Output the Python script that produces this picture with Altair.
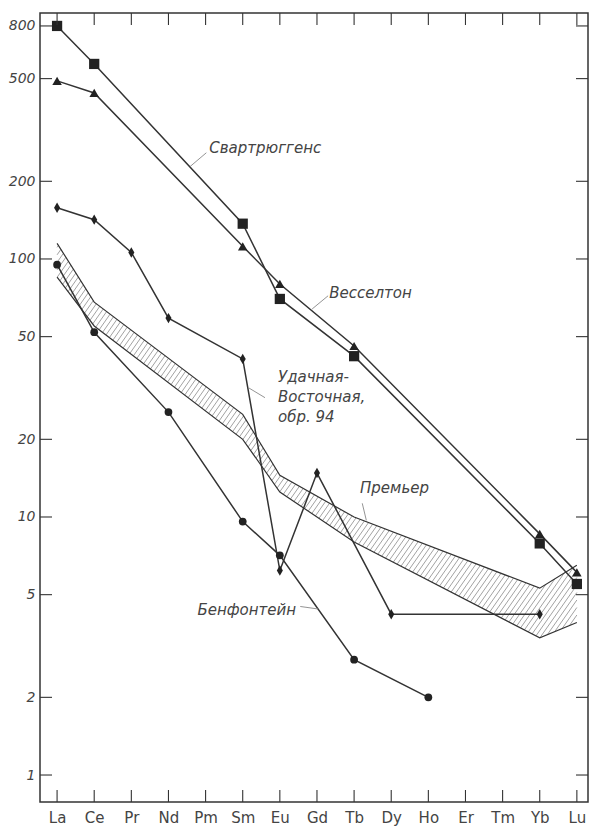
import json
import numpy as np
import pandas as pd
import altair as alt

# ---------------- data ----------------
elements = ["La", "Ce", "Pr", "Nd", "Pm", "Sm", "Eu", "Gd", "Tb", "Dy", "Ho", "Er", "Tm", "Yb", "Lu"]

svart_el = ["La", "Ce", "Sm", "Eu", "Tb", "Yb", "Lu"]
svart_val = [800, 570, 137, 70, 42, 7.9, 5.5]

vessel_el = ["La", "Ce", "Sm", "Eu", "Tb", "Yb", "Lu"]
vessel_val = [490, 440, 112, 80, 46, 8.6, 6.1]

udach_el = ["La", "Ce", "Pr", "Nd", "Sm", "Eu", "Gd", "Dy", "Yb"]
udach_val = [158, 142, 106, 59, 41, 6.2, 14.8, 4.2, 4.2]

benf_el = ["La", "Ce", "Nd", "Sm", "Eu", "Tb", "Ho"]
benf_val = [95, 52, 25.5, 9.6, 7.1, 2.8, 2.0]

prem_el = ["La", "Ce", "Sm", "Eu", "Tb", "Yb", "Lu"]
prem_upper = [115, 68, 25, 14.5, 10, 5.3, 6.5]
prem_lower = [85, 55, 20, 12.5, 8, 3.4, 3.9]

y_ticks = [1, 2, 5, 10, 20, 50, 100, 200, 500, 800]

# ---------------- layout ----------------
W, H = 548, 789
XDOM = [-0.46, 14.3]
YDOM = [0.786, 898]
LINE = "#333333"
TXT = "#444444"
FONT = "DejaVu Sans"

xs_scale = alt.Scale(domain=XDOM, nice=False, zero=False)
ys_scale = alt.Scale(type="log", domain=YDOM, nice=False)

label_expr = json.dumps(elements) + "[datum.value]"
X_AX = alt.Axis(values=list(range(len(elements))), labelExpr=label_expr, title=None,
                ticks=False, domain=False, grid=False, labelFontSize=15,
                labelColor=TXT, labelPadding=8, labelFont=FONT)
Y_AX = alt.Axis(values=y_ticks, format="d", title=None, ticks=False, domain=False, grid=False,
                labelFontSize=14, labelFontStyle="italic", labelColor=TXT,
                labelPadding=5, labelFont=FONT)


def xenc(f):
    return alt.X(f, type="quantitative", scale=xs_scale, axis=X_AX)


def yenc(f):
    return alt.Y(f, type="quantitative", scale=ys_scale, axis=Y_AX)


def idx(el):
    return [elements.index(e) for e in el]


series = []
for name, el, val in [("Свартрюггенс", svart_el, svart_val),
                      ("Весселтон", vessel_el, vessel_val),
                      ("Удачная", udach_el, udach_val),
                      ("Бенфонтейн", benf_el, benf_val)]:
    for i, v in zip(idx(el), val):
        series.append({"series": name, "i": i, "v": v})
df = pd.DataFrame(series)

band = pd.DataFrame({"i": idx(prem_el), "up": prem_upper, "lo": prem_lower})

# hatch segments derived from band boundaries
px_x = W / (XDOM[1] - XDOM[0])
px_y = H / (np.log10(YDOM[1]) - np.log10(YDOM[0]))
bx = np.array(idx(prem_el), float)
xs = np.linspace(bx[0], bx[-1], 4001)
lu = np.interp(xs, bx, np.log10(prem_upper))
ll = np.interp(xs, bx, np.log10(prem_lower))
X = xs * px_x
YU = lu * px_y
YL = ll * px_y
t = np.tan(np.radians(55))
cmin = (YL - X * t).min()
cmax = (YU - X * t).max()
segs = []
for c in np.arange(cmin, cmax, 7.5):
    ly = X * t + c
    m = (ly >= YL) & (ly <= YU)
    w = np.where(m)[0]
    if len(w) < 2:
        continue
    i0, i1 = w[0], w[-1]
    segs.append({"x": xs[i0], "y": 10 ** (ly[i0] / px_y),
                 "x2": xs[i1], "y2": 10 ** (ly[i1] / px_y)})
hatch = pd.DataFrame(segs)

ytk = pd.DataFrame({"v": y_ticks})
xtk = pd.DataFrame({"i": list(range(len(elements)))})
tick_style = dict(color=LINE, strokeWidth=1.1)
yt_left = alt.Chart(ytk).mark_rule(**tick_style).encode(y=yenc("v"), x=alt.value(0), x2=alt.value(12))
yt_right = alt.Chart(ytk).mark_rule(**tick_style).encode(y=yenc("v"), x=alt.value(W - 12), x2=alt.value(W))
xt_bot = alt.Chart(xtk).mark_rule(**tick_style).encode(x=xenc("i"), y=alt.value(H - 12), y2=alt.value(H))
xt_top = alt.Chart(xtk).mark_rule(**tick_style).encode(x=xenc("i"), y=alt.value(0), y2=alt.value(12))

hatch_layer = alt.Chart(hatch).mark_rule(color="#8a8a8a", strokeWidth=0.8).encode(
    x=xenc("x"), y=yenc("y"), x2="x2", y2="y2")
band_up = alt.Chart(band).mark_line(color=LINE, strokeWidth=1.2).encode(x=xenc("i"), y=yenc("up"))
band_lo = alt.Chart(band).mark_line(color=LINE, strokeWidth=1.2).encode(x=xenc("i"), y=yenc("lo"))

lines = alt.Chart(df).mark_line(color=LINE, strokeWidth=1.5).encode(
    x=xenc("i"), y=yenc("v"), detail="series:N")

diamond_path = "M0,-1.2L0.7,0L0,1.2L-0.7,0Z"
names = ["Свартрюггенс", "Весселтон", "Удачная", "Бенфонтейн"]
points = alt.Chart(df).mark_point(filled=True, color="#222222", opacity=1).encode(
    x=xenc("i"), y=yenc("v"),
    shape=alt.Shape("series:N", scale=alt.Scale(domain=names,
                    range=["square", "triangle-up", diamond_path, "circle"]), legend=None),
    size=alt.Size("series:N", scale=alt.Scale(domain=names, range=[105, 60, 150, 80]), legend=None),
)

# annotations
ann = pd.DataFrame([
    {"t": "Свартрюггенс", "i": 4.1, "v": 268},
    {"t": "Весселтон", "i": 7.33, "v": 74},
    {"t": "Премьер", "i": 8.16, "v": 12.9},
    {"t": "Бенфонтейн", "i": 3.78, "v": 4.36},
])
ann_layer = alt.Chart(ann).mark_text(align="left", baseline="middle", font=FONT, fontSize=15,
                                     fontStyle="italic", color=TXT).encode(
    x=xenc("i"), y=yenc("v"), text="t:N")
ann2 = pd.DataFrame([{"t": "Удачная-\nВосточная,\nобр. 94", "i": 5.95, "v": 37}])
ann2_layer = alt.Chart(ann2).mark_text(align="left", baseline="top", font=FONT, fontSize=15,
                                       fontStyle="italic", color=TXT, lineBreak="\n",
                                       lineHeight=20).encode(
    x=xenc("i"), y=yenc("v"), text="t:N")

leaders = pd.DataFrame([
    {"x": 3.58, "y": 228, "x2": 4.02, "y2": 258},
    {"x": 6.87, "y": 64, "x2": 7.3, "y2": 72},
    {"x": 5.17, "y": 31.6, "x2": 5.6, "y2": 29},
    {"x": 8.22, "y": 11.3, "x2": 8.33, "y2": 9.7},
    {"x": 6.55, "y": 4.5, "x2": 7.03, "y2": 4.4},
])
lead_layer = alt.Chart(leaders).mark_rule(color="#888888", strokeWidth=0.9).encode(
    x=xenc("x"), y=yenc("y"), x2="x2", y2="y2")

chart = alt.layer(
    hatch_layer, band_up, band_lo, lines, points,
    yt_left, yt_right, xt_bot, xt_top, lead_layer, ann_layer, ann2_layer,
).properties(
    width=W, height=H,
    autosize=alt.AutoSizeParams(type="none"),
    padding={"left": 32, "top": 5, "right": 1, "bottom": 24},
    background="white",
).configure_view(stroke=LINE, strokeWidth=1.5)

chart.save("out.html", embed_options={"renderer": "svg", "actions": False})
